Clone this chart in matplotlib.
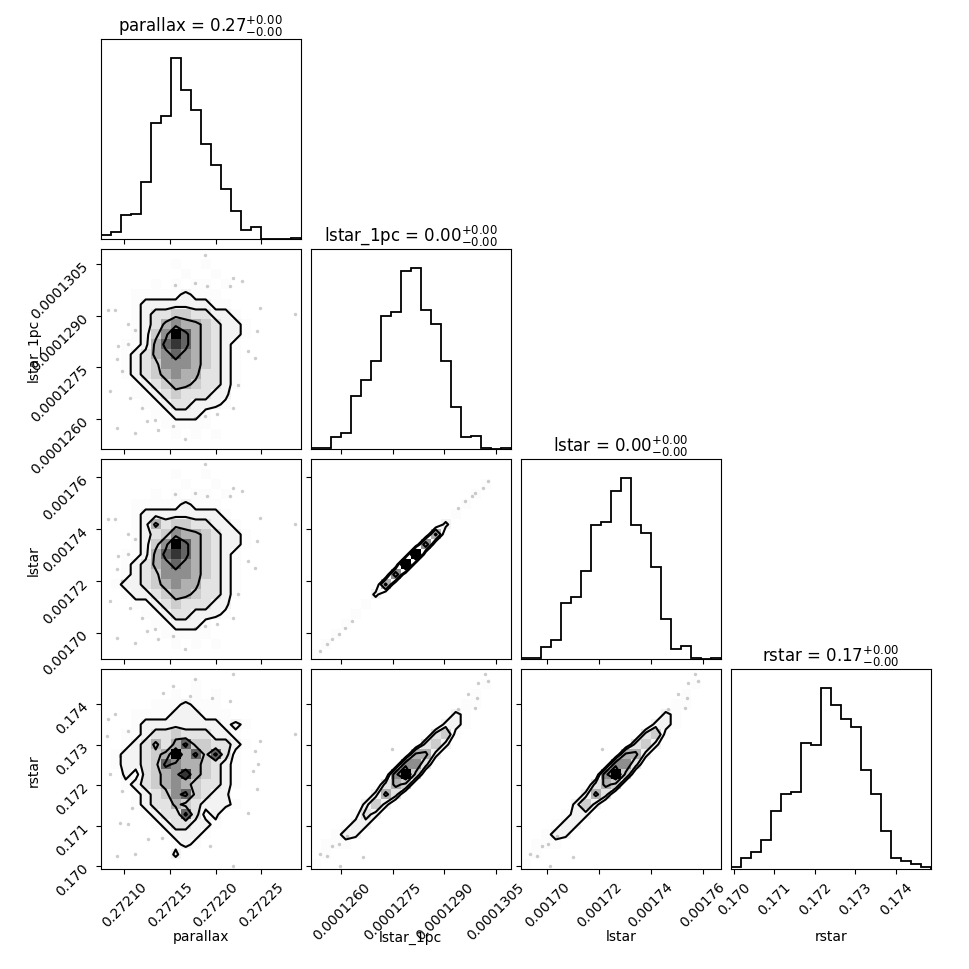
import numpy as np
import matplotlib
matplotlib.use("Agg")
import matplotlib.pyplot as plt
from matplotlib.colors import LinearSegmentedColormap, PowerNorm
from matplotlib.ticker import FixedLocator, FormatStrFormatter

# parameter names and the numbers shown in the titles
labels = ["parallax", "lstar_1pc", "lstar", "rstar"]
title_med = ["0.27", "0.00", "0.00", "0.17"]
title_lo = ["0.00", "0.00", "0.00", "0.00"]
title_hi = ["0.00", "0.00", "0.00", "0.00"]

# axis ranges and ticks
ranges = [(0.272074, 0.272293), (0.00012511, 0.00013093),
          (0.0016897, 0.00176695), (0.16992, 0.174857)]
ticks = [[0.27210, 0.27215, 0.27220, 0.27225],
         [0.0001260, 0.0001275, 0.0001290, 0.0001305],
         [0.00170, 0.00172, 0.00174, 0.00176],
         [0.170, 0.171, 0.172, 0.173, 0.174]]
tick_fmt = ["%.5f", "%.7f", "%.5f", "%.3f"]

# 1d histograms, 20 bins each (relative heights)
hist_parallax = [14, 23, 74, 77, 171, 348, 371, 545, 448, 387,
                 285, 223, 152, 86, 27, 36, 0, 0, 0, 4]
hist_lstar_1pc = [5, 5, 36, 49, 160, 207, 264, 400, 412, 534,
                  543, 415, 375, 264, 126, 36, 39, 4, 0, 3]
hist_lstar = [5, 5, 36, 57, 170, 188, 264, 402, 412, 504,
              543, 402, 378, 275, 120, 30, 40, 4, 0, 3]
hist_rstar = [6, 35, 52, 87, 174, 225, 233, 380, 372, 545,
              494, 452, 428, 299, 225, 116, 34, 24, 17, 8]

# 2d densities on the same 20x20 bins, top row first, 0-9 scale
dens_lstar_1pc_parallax = [
    "00000000000000000000",
    "00000001001000000000",
    "00000000100100000000",
    "00000101011010000000",
    "00011111211100000000",
    "00012222222110000000",
    "00012334433221000000",
    "00012356554322100000",
    "00012469754322100000",
    "00112578754321000000",
    "00123567654321000000",
    "00123466654321000000",
    "00123456553321000000",
    "00012345543321000000",
    "00011234333220000000",
    "00001123322210000000",
    "00000112221000000000",
    "00000011111000000000",
    "00000001010100000000",
    "00000000000000000000",
]
dens_lstar_parallax = [
    "00000000000000000000",
    "00000001001000000000",
    "00000000100100000000",
    "00000101011010000000",
    "00011111211100000000",
    "00012222222210000000",
    "00012534433221000000",
    "00012346554322100000",
    "00012469754322100000",
    "00112578754321000000",
    "00123567654321000000",
    "00123466654321000000",
    "01223456553321000000",
    "00122345543321000000",
    "00011234333220000000",
    "00001123322210000000",
    "00000112221000000000",
    "00000011111000000000",
    "00000001010100000000",
    "00000000000000000000",
]
dens_rstar_parallax = [
    "00000000000000000000",
    "00000000010000000000",
    "00000001010100000000",
    "00000111211100000000",
    "00011112221110000000",
    "00012222222212100000",
    "00112334333221000000",
    "00123535744332100000",
    "01223459574731000000",
    "01223476554321000000",
    "00213456854321000000",
    "00123456543321000000",
    "00012346743220000000",
    "00012335432221000000",
    "00001233731200000000",
    "00000123322100000000",
    "00000012221000000000",
    "00000001210000000000",
    "00000002000000000000",
    "00000000000000000000",
]
dens_lstar_lstar_1pc = [
    "00000000000000000000",
    "00000000000000000000",
    "00000000000000000100",
    "00000000000000001000",
    "00000000000000010000",
    "00000000000000100000",
    "00000000000002000000",
    "00000000000050000000",
    "00000000000600000000",
    "00000000009000000000",
    "00000000090000000000",
    "00000000600000000000",
    "00000005000000000000",
    "00000020000000000000",
    "00000100000000000000",
    "00001000000000000000",
    "00010000000000000000",
    "00100000000000000000",
    "01000000000000000000",
    "10000000000000000000",
]
dens_rstar_lstar_1pc = [
    "00000000000000000000",
    "00000000000000000100",
    "00000000000000001000",
    "00000000000000011000",
    "00000000000000210000",
    "00000000000002210000",
    "00000000000034100000",
    "00000000000342000000",
    "00000000005520000000",
    "00000000066300000000",
    "00000000694000000000",
    "00000003540000000000",
    "00000025300000000000",
    "00000242000000000000",
    "00001320000000000000",
    "00012200000000000000",
    "00122000000000000000",
    "01110000000000000000",
    "01000000000000000000",
    "10000000000000000000",
]
dens_rstar_lstar = [
    "00000000000000000000",
    "00000000000000000100",
    "00000000000000001000",
    "00000000000000011000",
    "00000000000000210000",
    "00000000000002210000",
    "00000000000034100000",
    "00000000000342000000",
    "00000000005520000000",
    "00000000066300000000",
    "00000000694000000000",
    "00000003540000000000",
    "00000025300000000000",
    "00000242000000000000",
    "00001220000000000000",
    "00012200000000000000",
    "00122000000000000000",
    "01110000000000000000",
    "01000000000000000000",
    "10000000000000000000",
]
contour_levels = [1.5, 2.5, 4.5, 6.5]

# loose samples outside the contours (x value, y value)
pts_lstar_1pc_parallax = [
    (0.2720824, 0.00012918), (0.2720897, 0.00012918), (0.2721043, 0.00012875),
    (0.2721116, 0.00012860), (0.2721043, 0.00012817), (0.2720933, 0.00012812),
    (0.2720915, 0.00012773), (0.2720970, 0.00012739), (0.2720842, 0.00012681),
    (0.2721061, 0.00012661), (0.2721189, 0.00012632), (0.2720915, 0.00012574),
    (0.2721116, 0.00012560), (0.2721244, 0.00012593), (0.2721371, 0.00012569),
    (0.2721536, 0.00012579), (0.2721663, 0.00012540), (0.2721773, 0.00012603),
    (0.2721882, 0.00012608), (0.2722010, 0.00012613), (0.2722193, 0.00012632),
    (0.2722247, 0.00012700), (0.2722357, 0.00012797), (0.2722430, 0.00012778),
    (0.2722448, 0.00012855), (0.2722485, 0.00012923), (0.2722284, 0.00013001),
    (0.2722193, 0.00013011), (0.2722156, 0.00012986), (0.2721901, 0.00012986),
    (0.2721773, 0.00012996), (0.2721554, 0.00012991), (0.2721882, 0.00013078),
    (0.2722868, 0.00012904), (0.2721335, 0.00012598),
]
pts_lstar_parallax = [
    (0.2720824, 0.00174378), (0.2720897, 0.00174378), (0.2721043, 0.00173798),
    (0.2721116, 0.00173605), (0.2721043, 0.00173026), (0.2720933, 0.00172961),
    (0.2720915, 0.00172446), (0.2720970, 0.00171996), (0.2720842, 0.00171223),
    (0.2721061, 0.00170966), (0.2721189, 0.00170579), (0.2720915, 0.00169807),
    (0.2721116, 0.00169614), (0.2721244, 0.00170064), (0.2721371, 0.00169742),
    (0.2721536, 0.00169871), (0.2721663, 0.00169357), (0.2721773, 0.00170193),
    (0.2721882, 0.00170257), (0.2722010, 0.00170322), (0.2722193, 0.00170579),
    (0.2722247, 0.00171481), (0.2722357, 0.00172768), (0.2722430, 0.00172511),
    (0.2722448, 0.00173541), (0.2722485, 0.00174442), (0.2722284, 0.00175472),
    (0.2722193, 0.00175601), (0.2722156, 0.00175279), (0.2721901, 0.00175279),
    (0.2721773, 0.00175408), (0.2721554, 0.00175343), (0.2721882, 0.00176502),
    (0.2722868, 0.00174184), (0.2721335, 0.00170129),
]
pts_rstar_parallax = [
    (0.2720824, 0.173623), (0.2720897, 0.173746), (0.2720806, 0.173211),
    (0.2721043, 0.173335), (0.2720952, 0.172718), (0.2720842, 0.172265),
    (0.2720970, 0.171854), (0.2721079, 0.171442), (0.2720952, 0.171072),
    (0.2721043, 0.171031), (0.2720915, 0.170249), (0.2721116, 0.170291),
    (0.2721262, 0.170661), (0.2721408, 0.170702), (0.2721937, 0.170496),
    (0.2722193, 0.170003), (0.2722357, 0.171319), (0.2722448, 0.171895),
    (0.2722412, 0.172347), (0.2722467, 0.172512), (0.2722430, 0.172841),
    (0.2722485, 0.173088), (0.2722156, 0.174075), (0.2721955, 0.174158),
    (0.2721718, 0.174199), (0.2721536, 0.174446), (0.2721426, 0.174281),
    (0.2721773, 0.174610), (0.2722193, 0.174734), (0.2722868, 0.173253),
]
pts_lstar_lstar_1pc = [
    (0.00012538, 0.00169292), (0.00012558, 0.00169549), (0.00012572, 0.00169742),
    (0.00012592, 0.00169936), (0.00012611, 0.00170193), (0.00012630, 0.00170451),
    (0.00012941, 0.00174828), (0.00012960, 0.00175086), (0.00012980, 0.00175279),
    (0.00012989, 0.00175408), (0.00013013, 0.00175601), (0.00013028, 0.00175858),
]
pts_rstar_lstar_1pc = [
    (0.00012538, 0.170291), (0.00012558, 0.170249), (0.00012572, 0.170496),
    (0.00012592, 0.170537), (0.00012616, 0.170743), (0.00012596, 0.170003),
    (0.00012664, 0.170225), (0.00012941, 0.173870), (0.00012970, 0.174240),
    (0.00012994, 0.174158), (0.00012989, 0.173911), (0.00012999, 0.174528),
    (0.00013018, 0.174734), (0.00013028, 0.174569), (0.00012747, 0.172882),
]
pts_rstar_lstar = [
    (0.0016933, 0.170291), (0.0016959, 0.170249), (0.0016978, 0.170496),
    (0.0017004, 0.170537), (0.0017036, 0.170743), (0.0017010, 0.170003),
    (0.0017100, 0.170225), (0.0017467, 0.173870), (0.0017506, 0.174240),
    (0.0017538, 0.174158), (0.0017532, 0.173911), (0.0017545, 0.174528),
    (0.0017570, 0.174734), (0.0017583, 0.174569), (0.0017210, 0.172882),
]

hists = [hist_parallax, hist_lstar_1pc, hist_lstar, hist_rstar]
dens = {(1, 0): dens_lstar_1pc_parallax, (2, 0): dens_lstar_parallax,
        (3, 0): dens_rstar_parallax, (2, 1): dens_lstar_lstar_1pc,
        (3, 1): dens_rstar_lstar_1pc, (3, 2): dens_rstar_lstar}
pts = {(1, 0): pts_lstar_1pc_parallax, (2, 0): pts_lstar_parallax,
       (3, 0): pts_rstar_parallax, (2, 1): pts_lstar_lstar_1pc,
       (3, 1): pts_rstar_lstar_1pc, (3, 2): pts_rstar_lstar}

dens_cmap = LinearSegmentedColormap.from_list("dens", ["white", "black"])

fig, axes = plt.subplots(4, 4, figsize=(9.7, 9.7), dpi=100)
fig.subplots_adjust(left=0.1038, right=0.9595, bottom=0.1026, top=0.9583,
                    wspace=0.05, hspace=0.05)

for i in range(4):
    for j in range(4):
        ax = axes[i, j]
        if j > i:
            ax.set_frame_on(False)
            ax.set_xticks([])
            ax.set_yticks([])
            continue

        x0, x1 = ranges[j]
        xe = np.linspace(x0, x1, 21)

        if i == j:
            h = np.array(hists[i], dtype=float)
            ax.stairs(h, xe, color="k", lw=1.3)
            ax.set_ylim(0, 1.1 * h.max())
            ax.set_yticks([])
            ax.set_title(f"{labels[i]} = ${title_med[i]}"
                         f"_{{-{title_lo[i]}}}^{{+{title_hi[i]}}}$", fontsize=12)
        else:
            y0, y1 = ranges[i]
            ye = np.linspace(y0, y1, 21)
            grid = np.array([[int(c) for c in row] for row in dens[(i, j)]],
                            dtype=float)[::-1]
            ax.pcolormesh(xe, ye, grid, cmap=dens_cmap,
                          norm=PowerNorm(2.0, vmin=0, vmax=9))
            px, py = zip(*pts[(i, j)])
            ax.plot(px, py, "o", color="k", ms=2.5, mec="none", alpha=0.2)
            xc = 0.5 * (xe[1:] + xe[:-1])
            yc = 0.5 * (ye[1:] + ye[:-1])
            ax.contour(xc, yc, grid, levels=contour_levels, colors="k",
                       linewidths=1.5)
            ax.set_ylim(y0, y1)
            ax.yaxis.set_major_locator(FixedLocator(ticks[i]))
            ax.yaxis.set_major_formatter(FormatStrFormatter(tick_fmt[i]))
            if j == 0:
                ax.tick_params(axis="y", labelrotation=45)
                ax.set_ylabel(labels[i])
                ax.yaxis.set_label_coords(-0.3, 0.5)
            else:
                ax.tick_params(axis="y", labelleft=False)

        ax.set_xlim(x0, x1)
        ax.xaxis.set_major_locator(FixedLocator(ticks[j]))
        ax.xaxis.set_major_formatter(FormatStrFormatter(tick_fmt[j]))
        if i < 3:
            ax.tick_params(axis="x", labelbottom=False)
        else:
            ax.tick_params(axis="x", labelrotation=45)
            ax.set_xlabel(labels[j])
            ax.xaxis.set_label_coords(0.5, -0.3)

fig.savefig("out.png", dpi=100)
